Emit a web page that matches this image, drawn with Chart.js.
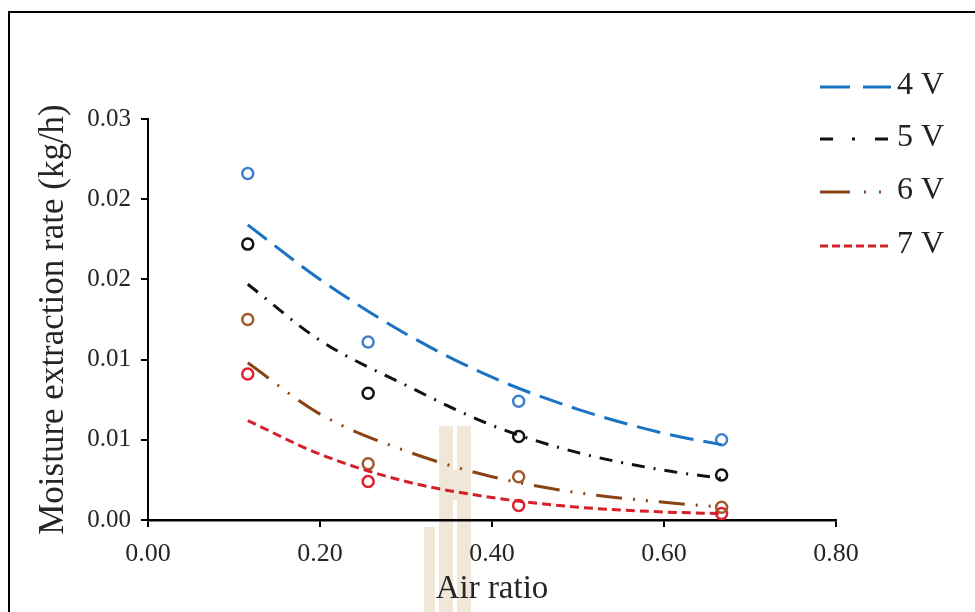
<!DOCTYPE html>
<html>
<head>
<meta charset="utf-8">
<script src="https://cdn.jsdelivr.net/npm/chart.js@4.4.0/dist/chart.umd.min.js"></script>
<style>
  html, body { margin: 0; padding: 0; background: #fff; overflow: hidden; }
  #wrap { position: relative; width: 975px; height: 612px; background: #fff; }
  #frame { position: absolute; left: 8px; top: 11px; width: 990px; height: 640px; border: 2px solid #000; box-sizing: border-box; pointer-events: none; }
  .wm { position: absolute; background: #f0e7d8; }
  canvas { position: absolute; left: 0; top: 0; }
</style>
</head>
<body>
<div id="wrap">
  <div class="wm" style="left:439px;top:426px;width:14px;height:186px;"></div>
  <div class="wm" style="left:457px;top:426px;width:14px;height:186px;"></div>
  <div class="wm" style="left:453px;top:470px;width:4px;height:30px;"></div>
  <div class="wm" style="left:424px;top:527px;width:11px;height:85px;"></div>
  <canvas id="c" width="975" height="612"></canvas>
  <div id="frame"></div>
</div>
<script>
// ---- data ----
const airRatio = [0.116, 0.256, 0.431, 0.667];
const measured4V = [0.0216, 0.0111, 0.0074, 0.0050];
const measured5V = [0.0172, 0.0079, 0.0052, 0.0028];
const measured6V = [0.0125, 0.0035, 0.0027, 0.0008];
const measured7V = [0.0091, 0.0024, 0.0009, 0.0004];

const trendX = [0.116, 0.2, 0.3, 0.4, 0.5, 0.6, 0.667];
const trend4V = [0.0184, 0.0150, 0.0116, 0.0089, 0.0069, 0.0054, 0.0047];
const trend5V = [0.0147, 0.0112, 0.0084, 0.0059, 0.0042, 0.0031, 0.0026];
const trend6V = [0.0098, 0.0066, 0.0043, 0.0027, 0.0017, 0.0011, 0.0008];
const trend7V = [0.0062, 0.0041, 0.0024, 0.0014, 0.0008, 0.0005, 0.0004];

const seriesNames = ['4 V', '5 V', '6 V', '7 V'];
const yTickLabels = ['0.00', '0.01', '0.01', '0.02', '0.02', '0.03'];
const xTickLabels = ['0.00', '0.20', '0.40', '0.60', '0.80'];

// ---- styles ----
const lineColors = ['#1a72c2', '#111111', '#8a4414', '#d42028'];
const pointColors = ['#3f80c8', '#111111', '#a05a2c', '#e0202c'];
const dashes = [[24, 10], [13, 9, 2, 9], [26, 11, 2, 11, 2, 11], [9, 5]];
const legendDashes = [[30, 13], [13, 19, 3, 20], [30, 14, 2, 13, 2, 30], [8, 4]];
const serif = '"Liberation Serif", "Times New Roman", serif';

function pts(xs, ys) { return xs.map((x, i) => ({ x: x, y: ys[i] })); }

const measured = [measured4V, measured5V, measured6V, measured7V];
const trends = [trend4V, trend5V, trend6V, trend7V];

const datasets = [];
trends.forEach((t, i) => {
  datasets.push({
    type: 'line',
    label: seriesNames[i],
    data: pts(trendX, t),
    borderColor: lineColors[i],
    borderWidth: 3,
    borderDash: dashes[i],
    pointRadius: 0,
    fill: false,
    tension: 0.4,
    cubicInterpolationMode: 'monotone',
    isTrend: true,
    legendDash: legendDashes[i]
  });
});
measured.forEach((m, i) => {
  datasets.push({
    type: 'scatter',
    label: seriesNames[i] + ' data',
    data: pts(airRatio, m),
    borderColor: pointColors[i],
    backgroundColor: 'rgba(0,0,0,0)',
    borderWidth: 2.5,
    pointRadius: 5.5,
    showLine: false
  });
});

const legendPlugin = {
  id: 'customLegend',
  afterDraw(chart) {
    const ctx = chart.ctx;
    const trendsDs = chart.data.datasets.filter(d => d.isTrend);
    const ys = [87, 139, 192, 246];
    ctx.save();
    trendsDs.forEach((ds, i) => {
      const y = ys[i];
      ctx.beginPath();
      ctx.setLineDash(ds.legendDash);
      ctx.lineDashOffset = 0;
      ctx.strokeStyle = ds.borderColor;
      ctx.lineWidth = 3;
      ctx.moveTo(820, y);
      ctx.lineTo(891, y);
      ctx.stroke();
      ctx.setLineDash([]);
      ctx.fillStyle = '#222';
      ctx.font = '32px ' + serif;
      ctx.textBaseline = 'middle';
      ctx.textAlign = 'left';
      ctx.fillText(ds.label, 897, y - 1);
    });
    ctx.restore();
  }
};

new Chart(document.getElementById('c'), {
  type: 'scatter',
  data: { datasets: datasets },
  plugins: [legendPlugin],
  options: {
    responsive: false,
    animation: false,
    devicePixelRatio: 1,
    layout: { padding: { top: 119, right: 139, left: 0, bottom: 0 } },
    plugins: { legend: { display: false }, tooltip: { enabled: false } },
    scales: {
      x: {
        type: 'linear',
        min: 0, max: 0.8,
        afterFit(scale) { scale.height = 92; },
        ticks: {
          stepSize: 0.2,
          color: '#262626',
          padding: 12,
          font: { family: serif, size: 26 },
          callback: (v, i) => xTickLabels[i]
        },
        grid: { display: true, drawOnChartArea: false, drawTicks: true, tickLength: 7, color: '#000', lineWidth: 2 },
        border: { display: true, color: '#000', width: 2.5 },
        title: {
          display: true, text: 'Air ratio', color: '#262626',
          font: { family: serif, size: 33 },
          padding: { top: 0, bottom: 3 }
        }
      },
      y: {
        type: 'linear',
        min: 0, max: 0.025,
        afterFit(scale) { scale.width = 148; },
        ticks: {
          stepSize: 0.005,
          color: '#262626',
          padding: 10,
          font: { family: serif, size: 25 },
          callback: (v, i) => yTickLabels[i]
        },
        grid: { display: true, drawOnChartArea: false, drawTicks: true, tickLength: 7, color: '#000', lineWidth: 2 },
        border: { display: true, color: '#000', width: 2 },
        title: {
          display: true, text: 'Moisture extraction rate (kg/h)', color: '#262626',
          font: { family: serif, size: 35 },
          padding: { top: 33, bottom: 0 }
        }
      }
    }
  }
});
</script>
</body>
</html>
